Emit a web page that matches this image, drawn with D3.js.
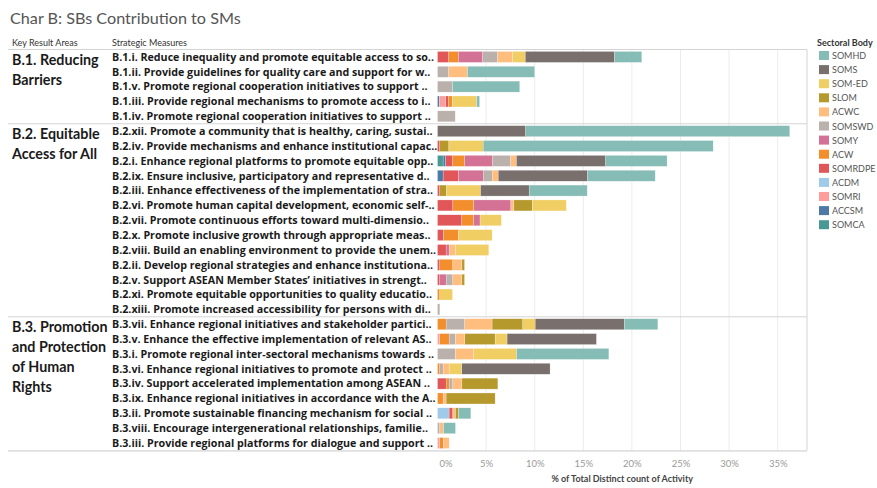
<!DOCTYPE html>
<html><head><meta charset="utf-8">
<script src="https://cdn.jsdelivr.net/npm/d3@7"></script>
<style>body{margin:0;background:#fff;} svg{display:block;font-family:Lato,"Open Sans",sans-serif;}</style>
</head><body>
<svg id="c" width="877" height="488"></svg>
<script>
const sectors = ["SOMHD","SOMS","SOM-ED","SLOM","ACWC","SOMSWD","SOMY","ACW","SOMRDPE","ACDM","SOMRI","ACCSM","SOMCA"];
const sectorColors = ["#86BCB6","#79706E","#F1CE63","#B6992D","#FFBE7D","#BAB0AC","#D37295","#F28E2B","#E15759","#A0CBE8","#FF9D9A","#4E79A7","#499894"];

const groupLabels = [["B.1. Reducing","Barriers"],["B.2. Equitable","Access for All"],["B.3. Promotion","and Protection","of Human","Rights"]];
const measures = [
"B.1.i. Reduce inequality and promote equitable access to so..",
"B.1.ii. Provide guidelines for quality care and support for w..",
"B.1.v. Promote regional cooperation initiatives to support ..",
"B.1.iii. Provide regional mechanisms to promote access to i..",
"B.1.iv. Promote regional cooperation initiatives to support ..",
"B.2.xii. Promote a community that is healthy, caring, sustai..",
"B.2.iv. Provide mechanisms and enhance institutional capac..",
"B.2.i. Enhance regional platforms to promote equitable opp..",
"B.2.ix. Ensure inclusive, participatory and representative d..",
"B.2.iii. Enhance effectiveness of the implementation of stra..",
"B.2.vi. Promote human capital development, economic self-..",
"B.2.vii. Promote continuous efforts toward multi-dimensio..",
"B.2.x. Promote inclusive growth through appropriate meas..",
"B.2.viii. Build an enabling environment to provide the unem..",
"B.2.ii. Develop regional strategies and enhance institutiona..",
"B.2.v. Support ASEAN Member States\u2019 initiatives in strengt..",
"B.2.xi. Promote equitable opportunities to quality educatio..",
"B.2.xiii. Promote increased accessibility for persons with di..",
"B.3.vii. Enhance regional initiatives and stakeholder partici..",
"B.3.v. Enhance the effective implementation of relevant AS..",
"B.3.i. Promote regional inter-sectoral mechanisms towards ..",
"B.3.vi. Enhance regional initiatives to promote and protect ..",
"B.3.iv. Support accelerated implementation among ASEAN ..",
"B.3.ix. Enhance regional initiatives in accordance with the A..",
"B.3.ii. Promote sustainable financing mechanism for social ..",
"B.3.viii. Encourage intergenerational relationships, familie..",
"B.3.iii. Provide regional platforms for dialogue and support .."
];
const measureGroup = [0,0,0,0,0, 1,1,1,1,1,1,1,1,1,1,1,1,1, 2,2,2,2,2,2,2,2,2];

// values in % of total distinct count of activity, one array per sectoral body (order = measures)
const SOMHD   = [2.8,6.92,6.92,0.3,0, 27.16,23.66,6.31,6.96,5.97,0,0,0,0,0,0,0,0, 3.43,0,9.5,0,0,0,1.27,1.23,0];
const SOMS    = [9.19,0,0,0,0, 9.08,0,9.19,9.19,5.0,0,0,0,0,0,0,0,0, 9.19,9.19,0,9.08,0,0,0,0,0];
const SOM_ED  = [1.3,0,0,2.5,0, 0,3.53,0,0,3.5,3.5,2.19,3.46,3.43,0,0,1.3,0, 1.27,1.23,4.39,1.3,0,0,0,0,0];
const SLOM    = [0,0,0,0,0, 0,0.93,0,0,0.69,1.89,0,0,0,0.27,0.27,0,0, 3.16,3.12,0,0,3.7,5.04,0.31,0,0];
const ACWC    = [1.54,1.92,0,0,0, 0,0,0.58,0.62,0,0.31,0,0,0.65,0.93,0.93,0,0, 2.81,0.96,1.89,0.62,0.93,0.31,0.27,0.38,0.58];
const SOMSWD  = [1.54,1.16,1.54,0,1.82, 0,0,1.89,0.93,0,0,0,0,0,0,0.69,0,0.24, 1.92,0.65,1.85,0.34,0.38,0,0,0.24,0];
const SOMY    = [2.5,0,0,0,0, 0,0,2.85,2.54,0,3.81,0.65,0,0.31,0,0.65,0,0, 0,0,0,0,0,0,0,0,0];
const ACW     = [0.99,0,0,0.38,0, 0,0,1.23,0,0,2.16,1.23,1.54,0,1.34,0,0.24,0, 0.89,0.96,0,0.24,0.31,0.58,0,0,0.38];
const SOMRDPE = [1.16,0,0,0.3,0, 0,0.24,0.72,1.58,0.24,1.58,2.5,0.62,0.89,0.24,0.24,0,0, 0,0,0,0,0.89,0,0.38,0,0];
const ACDM    = [0,0,0,0,0, 0,0,0,0,0,0,0,0,0,0,0,0,0, 0,0,0,0,0,0,1.2,0,0];
const SOMRI   = [0,0,0,0.65,0, 0,0,0,0,0,0,0,0,0,0,0,0,0, 0,0.24,0,0,0,0,0,0,0.24];
const ACCSM   = [0,0,0,0.2,0, 0,0,0.27,0.58,0,0,0,0,0,0,0,0,0, 0,0,0,0,0,0,0,0,0];
const SOMCA   = [0,0,0,0,0, 0,0,0.58,0,0,0,0,0,0,0,0,0,0, 0,0,0,0,0,0,0,0,0];
const seriesValues = [SOMHD,SOMS,SOM_ED,SLOM,ACWC,SOMSWD,SOMY,ACW,SOMRDPE,ACDM,SOMRI,ACCSM,SOMCA];
const xTicks = [0,5,10,15,20,25,30,35];

const svg = d3.select("#c");
const L = 8, plotL = 437.5, plotR = 807, topY = 49.5, step = 14.85;
const bottomY = topY + step*measures.length;

const x = d3.scaleLinear().domain([0,38]).range([plotL, plotL + 38*9.72]);
const y = d3.scaleBand().domain(d3.range(measures.length)).range([topY, bottomY]).paddingInner(0.26).paddingOuter(0.13);
const color = d3.scaleOrdinal().domain(sectors).range(sectorColors);

const rows = measures.map((m,i)=>{ const r={idx:i}; sectors.forEach((s,k)=>r[s]=seriesValues[k][i]); return r; });
const stack = d3.stack().keys(sectors.slice().reverse())(rows);

svg.append("text").attr("x",10).attr("y",24).attr("font-size",16.2).attr("fill","#555").text("Char B: SBs Contribution to SMs");
svg.append("text").attr("x",12).attr("y",46).attr("font-size",9).attr("fill","#333").text("Key Result Areas");
svg.append("text").attr("x",112).attr("y",46).attr("font-size",9).attr("fill","#333").text("Strategic Measures");

svg.append("g").selectAll("line").data(xTicks.filter(d=>d>0)).join("line")
  .attr("x1",d=>x(d)).attr("x2",d=>x(d)).attr("y1",topY).attr("y2",bottomY)
  .attr("stroke","#ececec").attr("stroke-width",1);

svg.append("g").selectAll("g").data(stack).join("g")
  .attr("fill",d=>color(d.key))
  .selectAll("rect").data(d=>d.filter(p=>p[1]-p[0]>0)).join("rect")
  .attr("x",d=>x(d[0])).attr("width",d=>x(d[1])-x(d[0]))
  .attr("y",d=>y(d.data.idx)).attr("height",y.bandwidth())
  .attr("stroke","#fff").attr("stroke-width",0.4).attr("stroke-opacity",0.6);

svg.append("g").selectAll("text").data(measures).join("text")
  .attr("x",112).attr("y",(d,i)=>y(i)+y.bandwidth()/2).attr("dy","0.36em")
  .attr("font-family","'Open Sans',sans-serif")
  .attr("font-size",10.7).attr("font-weight","bold").attr("fill","#1a1a1a").text(d=>d);

groupLabels.forEach((lines,g)=>{
  const first = measureGroup.indexOf(g);
  const gy = topY + first*step;
  lines.forEach((t,j)=>{
    svg.append("text").attr("x",12).attr("y",gy+15.5+j*20).attr("font-size",14.3).attr("font-weight","bold").attr("fill","#1a1a1a").text(t);
  });
  svg.append("line").attr("x1",L).attr("x2",plotR).attr("y1",gy).attr("y2",gy).attr("stroke","#d4d4d4");
});
svg.append("line").attr("x1",L).attr("x2",plotR).attr("y1",bottomY+0.5).attr("y2",bottomY+0.5).attr("stroke","#c8c8c8");
svg.append("line").attr("x1",plotR).attr("x2",plotR).attr("y1",topY).attr("y2",bottomY).attr("stroke","#d4d4d4");

const ax = svg.append("g").attr("transform",`translate(0,${bottomY})`)
  .call(d3.axisBottom(x).tickValues(xTicks).tickFormat(d=>d+"%").tickSize(0).tickPadding(10));
ax.select(".domain").remove();
ax.selectAll("text").attr("font-size",9.5).attr("fill","#999").attr("font-family","Lato,sans-serif");
ax.selectAll(".tick").filter(d=>d===0).select("text").attr("text-anchor","start").attr("x",1.5);
svg.append("text").attr("x",(plotL+plotR)/2).attr("y",482).attr("text-anchor","middle")
  .attr("font-size",9).attr("font-weight","bold").attr("fill","#444").text("% of Total Distinct count of Activity");

const lg = svg.append("g");
lg.append("text").attr("x",817).attr("y",46).attr("font-size",9).attr("font-weight","bold").attr("fill","#333").text("Sectoral Body");
sectors.forEach((s,i)=>{
  const yy = 51 + i*14.1;
  lg.append("rect").attr("x",819).attr("y",yy).attr("width",10).attr("height",9).attr("fill",color(s));
  lg.append("text").attr("x",832).attr("y",yy+8).attr("font-size",9).attr("fill","#555").text(s);
});
</script>
</body></html>
